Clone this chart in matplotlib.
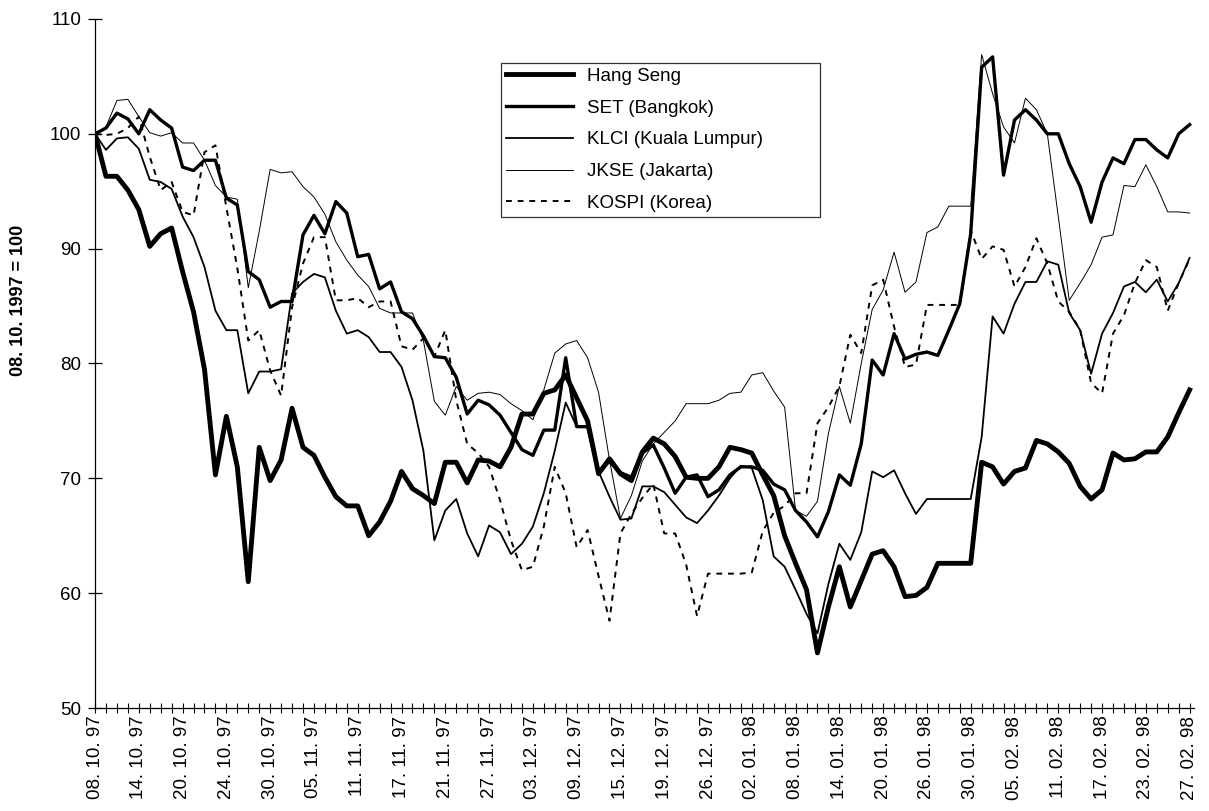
import matplotlib
matplotlib.use("Agg")
from matplotlib import pyplot as plt
import numpy as np

plt.rcParams['font.family'] = ['Liberation Sans', 'DejaVu Sans']

# Datas exibidas no eixo x (um rótulo a cada 4 pregões)
tick_labels = ['08. 10. 97', '14. 10. 97', '20. 10. 97', '24. 10. 97', '30. 10. 97',
               '05. 11. 97', '11. 11. 97', '17. 11. 97', '21. 11. 97', '27. 11. 97',
               '03. 12. 97', '09. 12. 97', '15. 12. 97', '19. 12. 97', '26. 12. 97',
               '02. 01. 98', '08. 01. 98', '14. 01. 98', '20. 01. 98', '26. 01. 98',
               '30. 01. 98', '05. 02. 98', '11. 02. 98', '17. 02. 98', '23. 02. 98',
               '27. 02. 98']

# Índices (08.10.1997 = 100), um valor por pregão
hang_seng = [100.0, 96.3, 96.3, 95.1, 93.4, 90.2, 91.3, 91.8, 88.0, 84.5,
             79.5, 70.3, 75.4, 71.0, 61.0, 72.7, 69.8, 71.6, 76.1, 72.7,
             72.0, 70.1, 68.4, 67.6, 67.6, 65.0, 66.2, 68.0, 70.6, 69.1,
             68.5, 67.8, 71.4, 71.4, 69.6, 71.6, 71.5, 71.0, 72.7, 75.6,
             75.6, 77.4, 77.7, 79.0, 77.0, 75.0, 70.4, 71.7, 70.4, 69.8,
             72.3, 73.5, 73.0, 71.9, 70.1, 70.0, 70.0, 71.0, 72.7, 72.5,
             72.2, 70.3, 68.5, 65.0, 62.6, 60.3, 54.8, 58.8, 62.3, 58.8,
             61.1, 63.4, 63.7, 62.3, 59.7, 59.8, 60.5, 62.6, 62.6, 62.6,
             62.6, 71.4, 71.0, 69.5, 70.6, 70.9, 73.3, 73.0, 72.3, 71.3,
             69.3, 68.2, 69.0, 72.2, 71.6, 71.7, 72.3, 72.3, 73.6, 75.7,
             77.7]

set_bangkok = [100.0, 100.5, 101.8, 101.3, 100.0, 102.1, 101.2, 100.5, 97.1, 96.8,
               97.7, 97.7, 94.4, 93.8, 88.0, 87.3, 84.9, 85.4, 85.4, 91.2,
               92.9, 91.3, 94.1, 93.1, 89.3, 89.5, 86.5, 87.1, 84.5, 83.9,
               82.4, 80.6, 80.5, 78.8, 75.6, 76.8, 76.4, 75.5, 74.0, 72.5,
               72.0, 74.2, 74.2, 80.5, 74.5, 74.5, 70.5, 71.5, 70.5, 70.1,
               72.2, 72.9, 70.9, 68.7, 70.1, 70.3, 68.4, 69.0, 70.3, 71.0,
               71.0, 70.7, 69.5, 69.0, 67.2, 66.2, 64.9, 67.1, 70.3, 69.4,
               73.0, 80.3, 79.0, 82.6, 80.4, 80.8, 81.0, 80.7, 82.9, 85.2,
               91.3, 105.8, 106.7, 96.4, 101.2, 102.1, 101.2, 100.0, 100.0, 97.4,
               95.4, 92.3, 95.8, 97.9, 97.4, 99.5, 99.5, 98.6, 97.9, 100.0,
               100.8]

klci = [100.0, 98.6, 99.6, 99.7, 98.7, 96.0, 95.8, 95.2, 92.8, 91.0,
        88.4, 84.6, 82.9, 82.9, 77.4, 79.3, 79.3, 79.5, 86.1, 87.1,
        87.8, 87.5, 84.6, 82.6, 82.9, 82.3, 81.0, 81.0, 79.7, 76.8,
        72.4, 64.6, 67.2, 68.2, 65.2, 63.2, 65.9, 65.3, 63.4, 64.3,
        65.8, 68.7, 72.4, 76.6, 74.5, 74.5, 70.6, 68.4, 66.4, 66.5,
        69.3, 69.3, 68.8, 67.7, 66.6, 66.1, 67.2, 68.5, 70.0, 71.1,
        70.9, 68.1, 63.2, 62.3, 60.3, 58.2, 56.5, 60.8, 64.3, 62.9,
        65.3, 70.6, 70.1, 70.7, 68.7, 66.9, 68.2, 68.2, 68.2, 68.2,
        68.2, 73.6, 84.1, 82.6, 85.2, 87.1, 87.1, 88.9, 88.6, 84.4,
        82.9, 79.1, 82.6, 84.4, 86.7, 87.1, 86.2, 87.3, 85.4, 87.0,
        89.2]

jkse = [100.0, 100.6, 102.9, 103.0, 101.5, 100.1, 99.8, 100.1, 99.2, 99.2,
        97.7, 95.5, 94.5, 94.3, 86.6, 91.5, 96.9, 96.6, 96.7, 95.4,
        94.5, 93.0, 90.6, 89.0, 87.7, 86.7, 84.8, 84.4, 84.4, 84.4,
        82.0, 76.7, 75.5, 78.0, 76.8, 77.4, 77.5, 77.3, 76.5, 75.9,
        75.1, 77.7, 80.9, 81.7, 82.0, 80.5, 77.5, 71.6, 66.5, 68.5,
        71.5, 73.0, 74.0, 75.0, 76.5, 76.5, 76.5, 76.8, 77.4, 77.5,
        79.0, 79.2, 77.6, 76.2, 67.2, 66.7, 68.0, 73.9, 78.0, 74.8,
        80.0, 84.7, 86.4, 89.7, 86.2, 87.1, 91.4, 91.9, 93.7, 93.7,
        93.7, 106.9, 103.5, 100.6, 99.2, 103.1, 102.1, 100.0, 92.8, 85.5,
        87.0, 88.6, 91.0, 91.2, 95.5, 95.4, 97.3, 95.4, 93.2, 93.2,
        93.1]

kospi = [100.0, 99.9, 100.0, 100.5, 101.5, 98.0, 95.1, 95.8, 93.2, 92.9,
         98.4, 99.0, 93.6, 88.3, 82.0, 82.9, 79.4, 77.2, 84.9, 88.7,
         91.0, 91.0, 85.5, 85.5, 85.7, 84.9, 85.4, 85.4, 81.5, 81.2,
         82.2, 80.6, 82.9, 76.8, 73.0, 72.2, 71.0, 68.1, 64.6, 62.0,
         62.3, 65.8, 71.0, 68.7, 64.0, 65.5, 61.5, 57.6, 65.2, 66.9,
         68.3, 69.5, 65.2, 65.2, 62.5, 58.0, 61.7, 61.7, 61.7, 61.7,
         61.8, 65.4, 67.0, 67.6, 68.7, 68.7, 74.8, 76.2, 78.0, 82.5,
         80.9, 86.8, 87.3, 83.2, 79.7, 79.9, 85.1, 85.1, 85.1, 85.1,
         91.6, 89.1, 90.2, 89.9, 86.7, 88.4, 90.9, 88.7, 85.4, 84.5,
         82.9, 78.3, 77.4, 82.6, 84.2, 87.0, 89.0, 88.4, 84.6, 87.0,
         89.1]

x = np.arange(len(hang_seng))

fig = plt.figure(figsize=(12.09, 8.11), dpi=100)
ax = fig.add_axes([0.0786, 0.127, 0.909, 0.8496])

ax.plot(x, hang_seng, color='black', linewidth=3.5, label='Hang Seng')
ax.plot(x, set_bangkok, color='black', linewidth=2.4, label='SET (Bangkok)')
ax.plot(x, klci, color='black', linewidth=1.3, label='KLCI (Kuala Lumpur)')
ax.plot(x, jkse, color='black', linewidth=0.7, label='JKSE (Jakarta)')
ax.plot(x, kospi, color='black', linewidth=1.4, linestyle=(0, (3, 3)),
        label='KOSPI (Korea)')

ax.set_xlim(0, 100.4)
ax.set_ylim(50, 110)

# Eixos: só esquerda e baixo, ticks cruzando a linha
for side in ['top', 'right']:
    ax.spines[side].set_visible(False)
for side in ['left', 'bottom']:
    ax.spines[side].set_linewidth(0.9)

ax.set_yticks(np.arange(50, 111, 10))
ax.tick_params(axis='y', direction='inout', length=10, width=0.9,
               labelsize=13.5, pad=5)
ax.set_xticks(x[::4])
ax.set_xticklabels(tick_labels, rotation=90)
ax.set_xticks(x, minor=True)
ax.tick_params(axis='x', which='both', direction='inout', length=7,
               width=0.8, labelsize=13.5, pad=2)

fig.text(0.015, 1 - 300 / 811, '08. 10. 1997 = 100', rotation=90,
         fontsize=13, fontweight='bold', ha='center', va='center')

# Legenda com caixa larga, como no original
leg = ax.legend(loc='upper left', bbox_to_anchor=(0.3694, 0.714, 0.290, 0.222),
                mode='expand', borderaxespad=0, fontsize=13.5,
                handlelength=3.6, labelspacing=0.78, frameon=True,
                fancybox=False, borderpad=0.25, handletextpad=0.75)
leg.get_frame().set_edgecolor('black')
leg.get_frame().set_linewidth(0.9)

fig.savefig('out.png', dpi=100)
